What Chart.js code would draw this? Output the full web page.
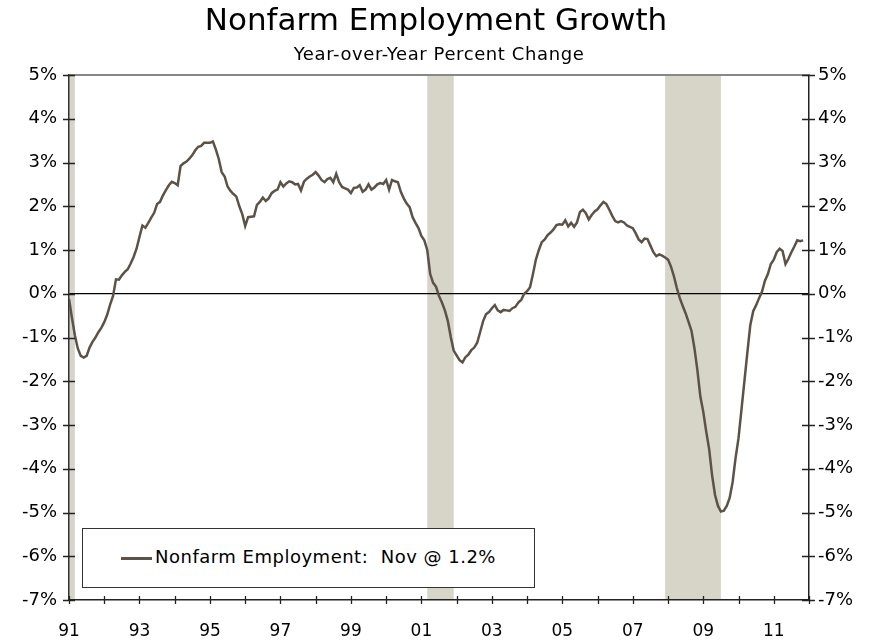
<!DOCTYPE html>
<html>
<head>
<meta charset="utf-8">
<script src="https://cdn.jsdelivr.net/npm/chart.js@4.4.1/dist/chart.umd.min.js"></script>
<style>
	body { margin: 0; background: #fff; font-family: 'DejaVu Sans', sans-serif; }
	#wrap { position: relative; width: 870px; height: 643px; }
	#title { position: absolute; left: 0; width: 872px; top: 1px; text-align: center; font-size: 31px; color: #000; }
	#subtitle { position: absolute; left: 0; width: 878px; top: 43px; text-align: center; font-size: 18px; letter-spacing: 0.6px; color: #000; }
	#legend { position: absolute; left: 82px; top: 528px; width: 451px; height: 58px; border: 1px solid #333; background: #fff; }
	#legend .swatch { position: absolute; left: 38px; top: 28px; width: 31px; height: 3px; background: #5c5248; }
	#legend .text { position: absolute; left: 72px; top: 17px; font-size: 18px; letter-spacing: 0.5px; white-space: nowrap; }
</style>
</head>
<body>
<div id="wrap">
	<canvas id="chart"></canvas>
	<div id="title">Nonfarm Employment Growth</div>
	<div id="subtitle">Year-over-Year Percent Change</div>
	<div id="legend"><div class="swatch"></div><div class="text">Nonfarm Employment:&nbsp; Nov @ 1.2%</div></div>
</div>
<script>
// monthly, Jan 1991 .. Nov 2011 (month 0 = Jan 1991)
const startYear = 1991;
const growth = [
	-0.12, -0.55, -0.95, -1.25, -1.42, -1.46, -1.42, -1.23, -1.10, -1.00, -0.88, -0.78, // 91
	-0.65, -0.48, -0.25, -0.05, 0.33, 0.32, 0.42, 0.50, 0.56, 0.69, 0.84, 1.03, // 92
	1.30, 1.56, 1.51, 1.62, 1.74, 1.85, 2.05, 2.10, 2.25, 2.37, 2.48, 2.56, // 93
	2.53, 2.48, 2.92, 2.98, 3.02, 3.09, 3.17, 3.28, 3.36, 3.38, 3.45, 3.45, // 94
	3.45, 3.48, 3.30, 3.08, 2.78, 2.68, 2.45, 2.35, 2.28, 2.22, 2.00, 1.82, // 95
	1.55, 1.75, 1.76, 1.77, 2.03, 2.10, 2.20, 2.12, 2.18, 2.30, 2.35, 2.38, // 96
	2.55, 2.45, 2.52, 2.57, 2.55, 2.50, 2.51, 2.36, 2.56, 2.63, 2.68, 2.72, // 97
	2.78, 2.70, 2.60, 2.55, 2.62, 2.65, 2.55, 2.74, 2.55, 2.44, 2.41, 2.38, // 98
	2.30, 2.42, 2.43, 2.48, 2.33, 2.38, 2.50, 2.38, 2.43, 2.50, 2.53, 2.51, // 99
	2.60, 2.38, 2.60, 2.57, 2.55, 2.33, 2.18, 2.06, 1.98, 1.75, 1.62, 1.50, // 00
	1.32, 1.22, 1.00, 0.45, 0.25, 0.16, -0.05, -0.20, -0.38, -0.62, -0.99, -1.30, // 01
	-1.41, -1.52, -1.57, -1.45, -1.39, -1.29, -1.23, -1.12, -0.88, -0.63, -0.47, -0.42, // 02
	-0.33, -0.26, -0.38, -0.42, -0.37, -0.38, -0.39, -0.33, -0.30, -0.20, -0.14, 0.00, // 03
	0.06, 0.15, 0.45, 0.78, 1.00, 1.18, 1.24, 1.34, 1.40, 1.47, 1.57, 1.59, // 04
	1.58, 1.68, 1.54, 1.62, 1.53, 1.63, 1.87, 1.92, 1.84, 1.70, 1.80, 1.88, // 05
	1.93, 2.02, 2.10, 2.05, 1.92, 1.78, 1.66, 1.63, 1.66, 1.63, 1.56, 1.53, // 06
	1.50, 1.38, 1.24, 1.18, 1.26, 1.25, 1.10, 0.95, 0.86, 0.90, 0.87, 0.83, // 07
	0.78, 0.62, 0.40, 0.13, -0.10, -0.28, -0.45, -0.65, -0.85, -1.25, -1.75, -2.35, // 08
	-2.70, -3.15, -3.55, -4.15, -4.60, -4.85, -4.98, -4.96, -4.85, -4.66, -4.30, -3.75, // 09
	-3.30, -2.65, -2.00, -1.35, -0.72, -0.40, -0.26, -0.10, 0.05, 0.30, 0.45, 0.68, // 10
	0.78, 0.95, 1.03, 0.98, 0.68, 0.80, 0.95, 1.08, 1.22, 1.20, 1.22 // 11
];
// recession spans, in months from Jan 1991
const recessions = [[0, 2], [122, 131], [203, 222]];
const yTicks = [5, 4, 3, 2, 1, 0, -1, -2, -3, -4, -5, -6, -7];

const lineColor = '#5c5248';
const yFont = { family: 'DejaVu Sans', size: 18 };

const shading = {
	id: 'shading',
	beforeDraw(chart) {
		const { ctx, chartArea, scales } = chart;
		ctx.save();
		ctx.fillStyle = '#d7d4c8';
		recessions.forEach(([a, b]) => {
			const x0 = scales.x.getPixelForValue(a);
			const x1 = scales.x.getPixelForValue(b);
			ctx.fillRect(x0, chartArea.top, x1 - x0, chartArea.bottom - chartArea.top);
		});
		ctx.restore();
	},
	afterDraw(chart) {
		const { ctx, chartArea, scales } = chart;
		ctx.save();
		// top frame
		ctx.strokeStyle = '#888';
		ctx.lineWidth = 2;
		ctx.beginPath();
		ctx.moveTo(chartArea.left, chartArea.top);
		ctx.lineTo(chartArea.right, chartArea.top);
		ctx.stroke();
		// tick marks crossing the axes
		ctx.strokeStyle = '#222';
		ctx.lineWidth = 1.3;
		ctx.beginPath();
		yTicks.forEach(v => {
			const y = Math.round(scales.y.getPixelForValue(v)) + 0.5;
			ctx.moveTo(chartArea.left - 6, y);
			ctx.lineTo(chartArea.left + 6, y);
			ctx.moveTo(chartArea.right - 7, y);
			ctx.lineTo(chartArea.right + 6, y);
		});
		for (let m = 0; m <= 252; m += 12) {
			const x = Math.round(scales.x.getPixelForValue(m)) + 0.5;
			ctx.moveTo(x, chartArea.bottom - 4);
			ctx.lineTo(x, chartArea.bottom + 4);
		}
		ctx.stroke();
		ctx.restore();
	},
};

new Chart(document.getElementById('chart'), {
	type: 'line',
	data: {
		datasets: [
			{
				label: 'Nonfarm Employment',
				data: growth.map((v, i) => ({ x: i, y: v })),
				borderColor: lineColor,
				borderWidth: 2.5,
				pointRadius: 0,
				tension: 0,
			},
		],
	},
	options: {
		responsive: true,
		maintainAspectRatio: false,
		animation: false,
		layout: { padding: { top: 75, left: 0, right: 0, bottom: 0 } },
		plugins: { legend: { display: false }, tooltip: { enabled: false } },
		scales: {
			x: {
				type: 'linear',
				min: 0,
				max: 252,
				afterFit: s => { s.height = 43; },
				grid: { display: false, drawTicks: false },
				border: { color: '#222', width: 1.5 },
				ticks: {
					stepSize: 12,
					autoSkip: false,
					maxRotation: 0,
					padding: 21,
					color: '#000',
					font: { family: 'DejaVu Sans', size: 17 },
					callback: v => (v % 24 === 0 ? String((startYear + v / 12) % 100).padStart(2, '0') : ''),
				},
			},
			y: {
				position: 'left',
				min: -7,
				max: 5,
				afterFit: s => { s.width = 69; },
				grid: {
					drawTicks: false,
					color: c => (c.tick && c.tick.value === 0 ? '#000' : 'rgba(0,0,0,0)'),
					lineWidth: 1.2,
				},
				border: { color: '#333', width: 1.5 },
				ticks: { stepSize: 1, padding: 12, color: '#000', font: yFont, callback: v => v + '%' },
			},
			y2: {
				position: 'right',
				min: -7,
				max: 5,
				afterFit: s => { s.width = 61; },
				grid: { display: false, drawTicks: false },
				border: { color: '#222', width: 1.5 },
				ticks: { stepSize: 1, padding: 9, color: '#000', font: yFont, callback: v => v + '%' },
			},
		},
	},
	plugins: [shading],
});
</script>
</body>
</html>
